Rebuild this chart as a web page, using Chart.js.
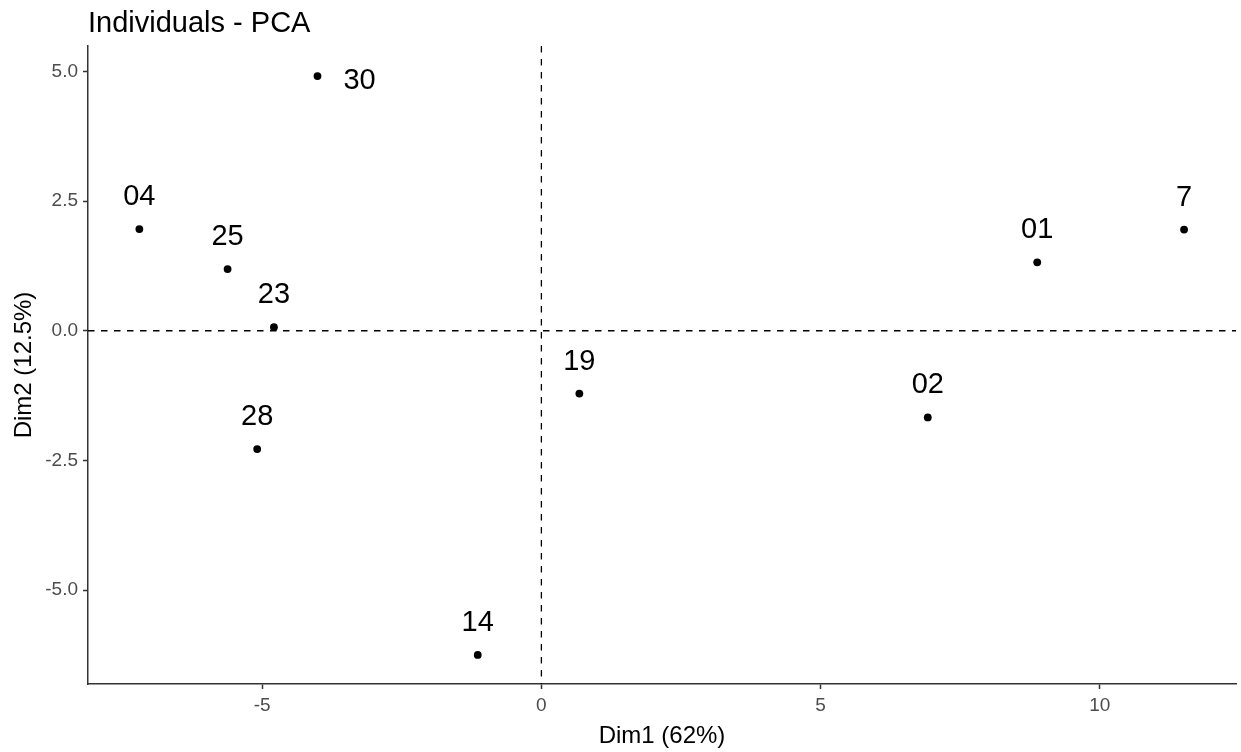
<!DOCTYPE html>
<html>
<head>
<meta charset="utf-8">
<script src="https://cdn.jsdelivr.net/npm/chart.js@4.4.1/dist/chart.umd.min.js"></script>
<style>
  html, body { margin: 0; padding: 0; background: #ffffff; }
  #wrap { width: 1241px; height: 752px; }
</style>
</head>
<body>
<div id="wrap"><canvas id="c" width="1241" height="752"></canvas></div>
<script>
// ---- data ----
const individuals = ['30', '04', '25', '23', '28', '14', '19', '02', '01', '7'];
const dim1 = [-4.01, -7.20, -5.62, -4.79, -5.09, -1.14, 0.68, 6.92, 8.88, 11.51];
const dim2 = [4.91, 1.96, 1.19, 0.07, -2.28, -6.25, -1.21, -1.67, 1.32, 1.95];
const xTicks = [-5, 0, 5, 10];
const xTickLabels = ['-5', '0', '5', '10'];
const yTicks = [-5, -2.5, 0, 2.5, 5];
const yTickLabels = ['-5.0', '-2.5', '0.0', '2.5', '5.0'];
const labelSide = ['right', 'top', 'top', 'top', 'top', 'top', 'top', 'top', 'top', 'top'];

const FONT = "'Liberation Sans', Arial, sans-serif";

const points = dim1.map((x, i) => ({ x: x, y: dim2[i] }));

const refLines = {
  id: 'refLines',
  beforeDatasetsDraw(chart) {
    const { ctx, chartArea: a, scales: { x, y } } = chart;
    const x0 = x.getPixelForValue(0);
    const y0 = y.getPixelForValue(0);
    ctx.save();
    ctx.strokeStyle = '#000000';
    ctx.lineWidth = 1.3;
    ctx.setLineDash([6.5, 6.5]);
    ctx.beginPath();
    ctx.moveTo(x0, a.top); ctx.lineTo(x0, a.bottom);
    ctx.moveTo(a.left, y0); ctx.lineTo(a.right, y0);
    ctx.stroke();
    ctx.restore();
  }
};

const pointLabels = {
  id: 'pointLabels',
  afterDatasetsDraw(chart) {
    const { ctx } = chart;
    const meta = chart.getDatasetMeta(0);
    ctx.save();
    ctx.fillStyle = '#000000';
    ctx.font = '29px ' + FONT;
    ctx.textBaseline = 'alphabetic';
    meta.data.forEach((el, i) => {
      const px = el.x, py = el.y;
      if (labelSide[i] === 'right') {
        ctx.textAlign = 'left';
        ctx.fillText(individuals[i], px + 26, py + 13);
      } else {
        ctx.textAlign = 'center';
        ctx.fillText(individuals[i], px, py - 24);
      }
    });
    ctx.restore();
  }
};

const titlePlugin = {
  id: 'titlePlugin',
  afterDraw(chart) {
    const { ctx, chartArea: a } = chart;
    ctx.save();
    ctx.fillStyle = '#000000';
    ctx.font = '29px ' + FONT;
    ctx.textAlign = 'left';
    ctx.textBaseline = 'alphabetic';
    ctx.fillText('Individuals - PCA', a.left, 32);
    ctx.restore();
  }
};

new Chart(document.getElementById('c'), {
  type: 'scatter',
  data: {
    datasets: [{
      data: points,
      backgroundColor: '#000000',
      borderColor: '#000000',
      pointRadius: 3.9,
      pointHoverRadius: 3.9,
      borderWidth: 0
    }]
  },
  options: {
    responsive: false,
    animation: false,
    layout: { padding: { top: 46, left: 0, right: 5, bottom: 0 } },
    plugins: {
      legend: { display: false },
      tooltip: { enabled: false },
      title: { display: false }
    },
    scales: {
      x: {
        type: 'linear',
        position: 'bottom',
        min: -8.12,
        max: 12.44,
        afterBuildTicks: (s) => { s.ticks = xTicks.map(v => ({ value: v })); },
        afterFit: (s) => { s.height = 68; },
        ticks: {
          font: { family: FONT, size: 19 },
          color: '#4d4d4d',
          padding: 5,
          maxRotation: 0,
          autoSkip: false,
          callback: (v) => { const k = xTicks.indexOf(v); return k >= 0 ? xTickLabels[k] : ''; }
        },
        grid: { display: true, drawOnChartArea: false, drawTicks: true, tickLength: 5, tickWidth: 1.5, tickColor: '#333333' },
        border: { display: true, color: '#333333', width: 1.5 },
        title: {
          display: true,
          text: 'Dim1 (62%)',
          color: '#000000',
          font: { family: FONT, size: 24 },
          padding: { top: 0, bottom: 1 }
        }
      },
      y: {
        type: 'linear',
        position: 'left',
        min: -6.81,
        max: 5.49,
        afterBuildTicks: (s) => { s.ticks = yTicks.map(v => ({ value: v })); },
        afterFit: (s) => { s.width = 88; },
        ticks: {
          font: { family: FONT, size: 19 },
          color: '#4d4d4d',
          padding: 5,
          autoSkip: false,
          callback: (v) => { const k = yTicks.indexOf(v); return k >= 0 ? yTickLabels[k] : ''; }
        },
        grid: { display: true, drawOnChartArea: false, drawTicks: true, tickLength: 5, tickWidth: 1.5, tickColor: '#333333' },
        border: { display: true, color: '#333333', width: 1.5 },
        title: {
          display: true,
          text: 'Dim2 (12.5%)',
          color: '#000000',
          font: { family: FONT, size: 24 },
          padding: { top: 10, bottom: 0 }
        }
      }
    }
  },
  plugins: [refLines, pointLabels, titlePlugin]
});
</script>
</body>
</html>
